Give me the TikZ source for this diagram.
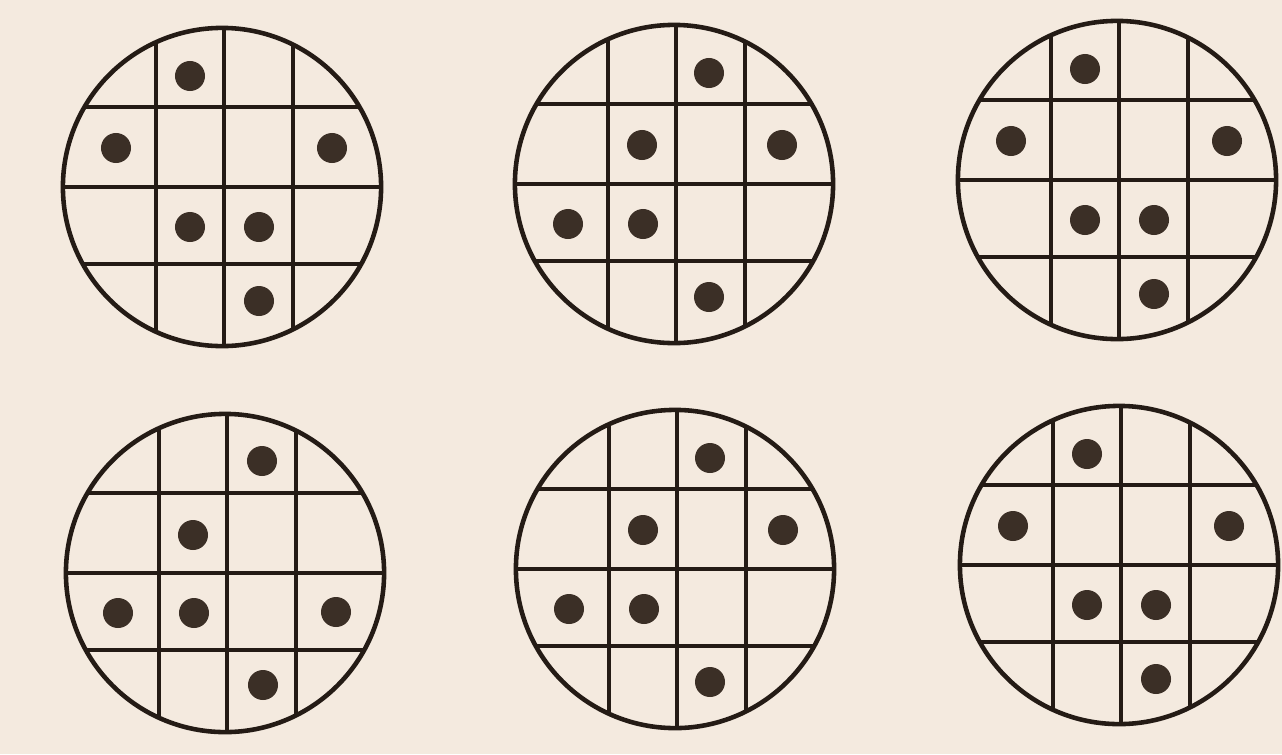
\documentclass[tikz,border=0pt]{standalone}
\usepackage{xcolor}
\usepackage{tikz}
\definecolor{paper}{HTML}{F4EADF}
\definecolor{ink}{HTML}{241B15}
\definecolor{dotbrown}{HTML}{3B2F26}
\tikzstyle{disk}     = [circle, draw=ink, line width=1.3pt, minimum size=3.18cm,
                        inner sep=0pt]
\tikzstyle{gridline} = [draw=ink, line width=1.3pt]
\tikzstyle{pip}      = [fill=dotbrown]

\begin{document}
\begin{tikzpicture}[x=0.01cm, y=-0.01cm]

  \useasboundingbox[fill=paper] (0,0) rectangle (1282,754);

  %% Discs with their 4x4 grid
  \foreach \n/\cx/\cy in {1/222/187, 2/674/184, 3/1117/180,
                          4/225/573, 5/675/569, 6/1119/565} {
    \begin{scope}
      \clip (\cx,\cy) circle (1.59cm);
      \foreach \gx in {-66,2,71}
        \draw[gridline] ({\cx+\gx},{\cy-170}) -- ({\cx+\gx},{\cy+170});
      \foreach \gy in {-80,0,77}
        \draw[gridline] ({\cx-170},{\cy+\gy}) -- ({\cx+170},{\cy+\gy});
    \end{scope}
    \node[disk] (disk\n) at (\cx,\cy) {};
  }

  %% Dots, first pattern
  \foreach \n in {1,3,6}
    \foreach \dx/\dy in {-32/-111, -106/-39, 110/-39, -32/40, 37/40, 37/114}
      \fill[pip] ([shift={(\dx,\dy)}]disk\n.center) circle (0.15cm);

  %% Dots, second pattern
  \foreach \n in {2,5}
    \foreach \dx/\dy in {35/-111, -32/-39, 108/-39, -106/40, -31/40, 35/113}
      \fill[pip] ([shift={(\dx,\dy)}]disk\n.center) circle (0.15cm);

  %% Dots, third pattern
  \foreach \dx/\dy in {37/-112, -32/-38, -107/40, -31/40, 111/39, 38/112}
    \fill[pip] ([shift={(\dx,\dy)}]disk4.center) circle (0.15cm);

\end{tikzpicture}
\end{document}
